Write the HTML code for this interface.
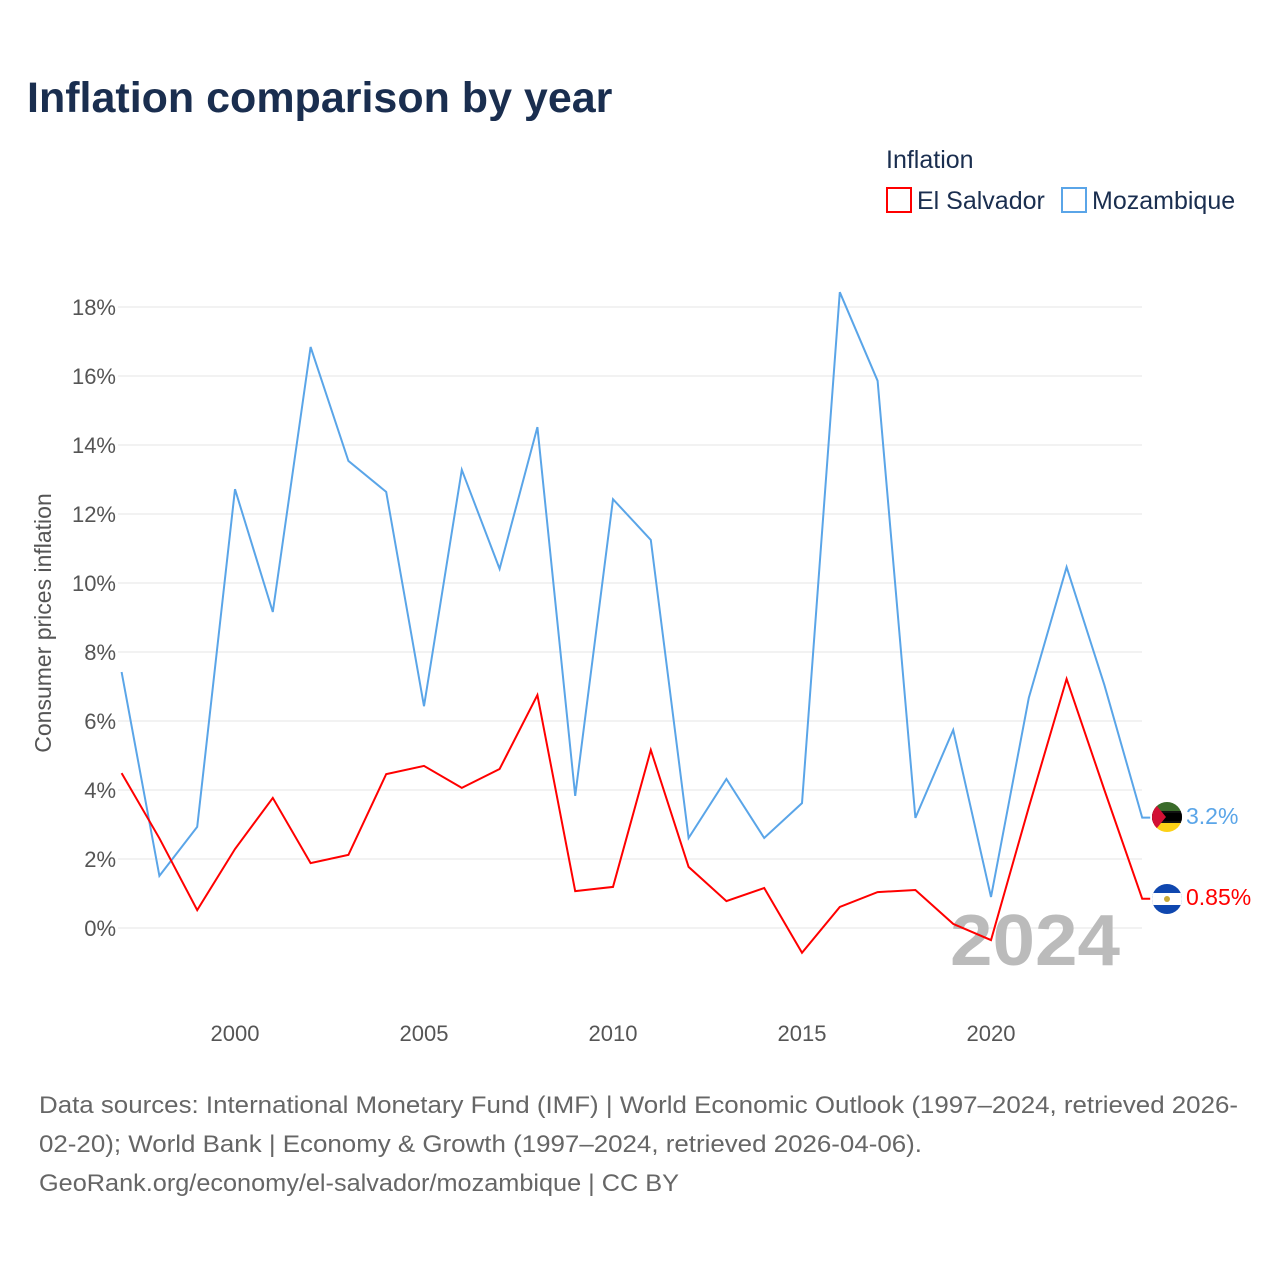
<!DOCTYPE html>
<html><head><meta charset="utf-8">
<style>
body{margin:0;background:#fff;font-family:"Liberation Sans",sans-serif;}
#wrap{position:relative;width:1280px;height:1280px;overflow:hidden;}
</style></head>
<body>
<div id="wrap">
<svg id="chart" width="1280" height="1280" xmlns="http://www.w3.org/2000/svg">
<text x="27" y="112" font-size="43" font-weight="bold" fill="#1a2e4f">Inflation comparison by year</text>
<text x="886" y="168" font-size="25" fill="#1a2e4f">Inflation</text>
<g>
<rect x="887" y="188" width="24" height="24" fill="none" stroke="#ff0000" stroke-width="2"/>
<text x="917" y="209" font-size="25" fill="#1a2e4f">El Salvador</text></g>
<g>
<rect x="1062" y="188" width="24" height="24" fill="none" stroke="#5aa5e8" stroke-width="2"/>
<text x="1092" y="209" font-size="25" fill="#1a2e4f">Mozambique</text></g>
<g id="grid"></g>
<g id="yticks"></g>
<g id="xticks"></g>
<text transform="translate(51,623) rotate(-90)" text-anchor="middle" font-size="23" fill="#555">Consumer prices inflation</text>
<text x="950" y="965" textLength="170" lengthAdjust="spacingAndGlyphs" font-size="72" font-weight="bold" fill="#bbb">2024</text>
<g id="series"></g>
<g>
<clipPath id="c1"><circle cx="1167" cy="817" r="15"/></clipPath>
<g clip-path="url(#c1)"><rect x="1150" y="800" width="34" height="11" fill="#3a6b2a"/><rect x="1150" y="811" width="34" height="12" fill="#111"/><rect x="1150" y="813" width="34" height="8" fill="#000"/><rect x="1150" y="823" width="34" height="11" fill="#fcd116"/><polygon points="1152,800 1166,817 1152,834" fill="#d21034"/></g></g>
<g>
<clipPath id="c2"><circle cx="1167" cy="899" r="15"/></clipPath>
<g clip-path="url(#c2)"><rect x="1150" y="882" width="34" height="34" fill="#0f47af"/><rect x="1150" y="893" width="34" height="12" fill="#fff"/><circle cx="1167" cy="899" r="3" fill="#c9a935"/></g></g>
<text x="1186" y="824" font-size="23" fill="#5aa5e8">3.2%</text>
<text x="1186" y="905" font-size="23" fill="#ff0000">0.85%</text>
<text font-size="24" fill="#666">
<tspan x="39" y="1113" textLength="1199" lengthAdjust="spacingAndGlyphs">Data sources: International Monetary Fund (IMF) | World Economic Outlook (1997–2024, retrieved 2026-</tspan>
<tspan x="39" y="1152" textLength="883" lengthAdjust="spacingAndGlyphs">02-20); World Bank | Economy &amp; Growth (1997–2024, retrieved 2026-04-06).</tspan>
<tspan x="39" y="1191" textLength="640" lengthAdjust="spacingAndGlyphs">GeoRank.org/economy/el-salvador/mozambique | CC BY</tspan></text>
</svg>
</div>
<script>
const years=[1997,1998,1999,2000,2001,2002,2003,2004,2005,2006,2007,2008,2009,2010,2011,2012,2013,2014,2015,2016,2017,2018,2019,2020,2021,2022,2023,2024];
const mozambique=[7.42,1.51,2.93,12.72,9.16,16.84,13.54,12.64,6.43,13.28,10.41,14.52,3.83,12.43,11.25,2.61,4.32,2.61,3.62,18.43,15.86,3.19,5.74,0.9,6.67,10.46,7.04,3.2];
const elSalvador=[4.49,2.6,0.52,2.29,3.77,1.88,2.12,4.46,4.7,4.06,4.61,6.75,1.07,1.19,5.16,1.77,0.78,1.16,-0.72,0.61,1.04,1.1,0.12,-0.35,3.5,7.22,4.0,0.85];
const yTicks=[0,2,4,6,8,10,12,14,16,18];
const xTicks=[2000,2005,2010,2015,2020];
const NS="http://www.w3.org/2000/svg";
const X=y=>121.6+(y-1997)*37.8;
const Y=v=>928-v*34.5;
const grid=document.getElementById('grid'),yt=document.getElementById('yticks'),xt=document.getElementById('xticks'),ser=document.getElementById('series');
yTicks.forEach(t=>{
 const l=document.createElementNS(NS,'line');
 l.setAttribute('x1',118);l.setAttribute('x2',1142);l.setAttribute('y1',Y(t));l.setAttribute('y2',Y(t));
 l.setAttribute('stroke','#e6e6e6');l.setAttribute('stroke-width','1');
 
 
 grid.appendChild(l);
 const tx=document.createElementNS(NS,'text');
 tx.setAttribute('x',116);tx.setAttribute('y',Y(t)+8);tx.setAttribute('text-anchor','end');
 tx.setAttribute('font-size','22');tx.setAttribute('fill','#555');tx.textContent=t+'%';
 
 
 yt.appendChild(tx);
});
xTicks.forEach(t=>{
 const tx=document.createElementNS(NS,'text');
 tx.setAttribute('x',X(t));tx.setAttribute('y',1041);tx.setAttribute('text-anchor','middle');
 tx.setAttribute('font-size','22');tx.setAttribute('fill','#555');tx.textContent=t;
 
 
 xt.appendChild(tx);
});
function line(vals,color,name){
 let d=vals.map((v,i)=>(i?'L':'M')+X(years[i]).toFixed(1)+','+Y(v).toFixed(1)).join(' ');
 d+=' L'+(X(years[years.length-1])+8).toFixed(1)+','+Y(vals[vals.length-1]).toFixed(1);
 const p=document.createElementNS(NS,'path');
 p.setAttribute('d',d);p.setAttribute('fill','none');p.setAttribute('stroke',color);p.setAttribute('stroke-width','2');
 
 
 ser.appendChild(p);
}
line(mozambique,'#5aa5e8','mozambique-line');
line(elSalvador,'#ff0000','el-salvador-line');
</script>
</body></html>
